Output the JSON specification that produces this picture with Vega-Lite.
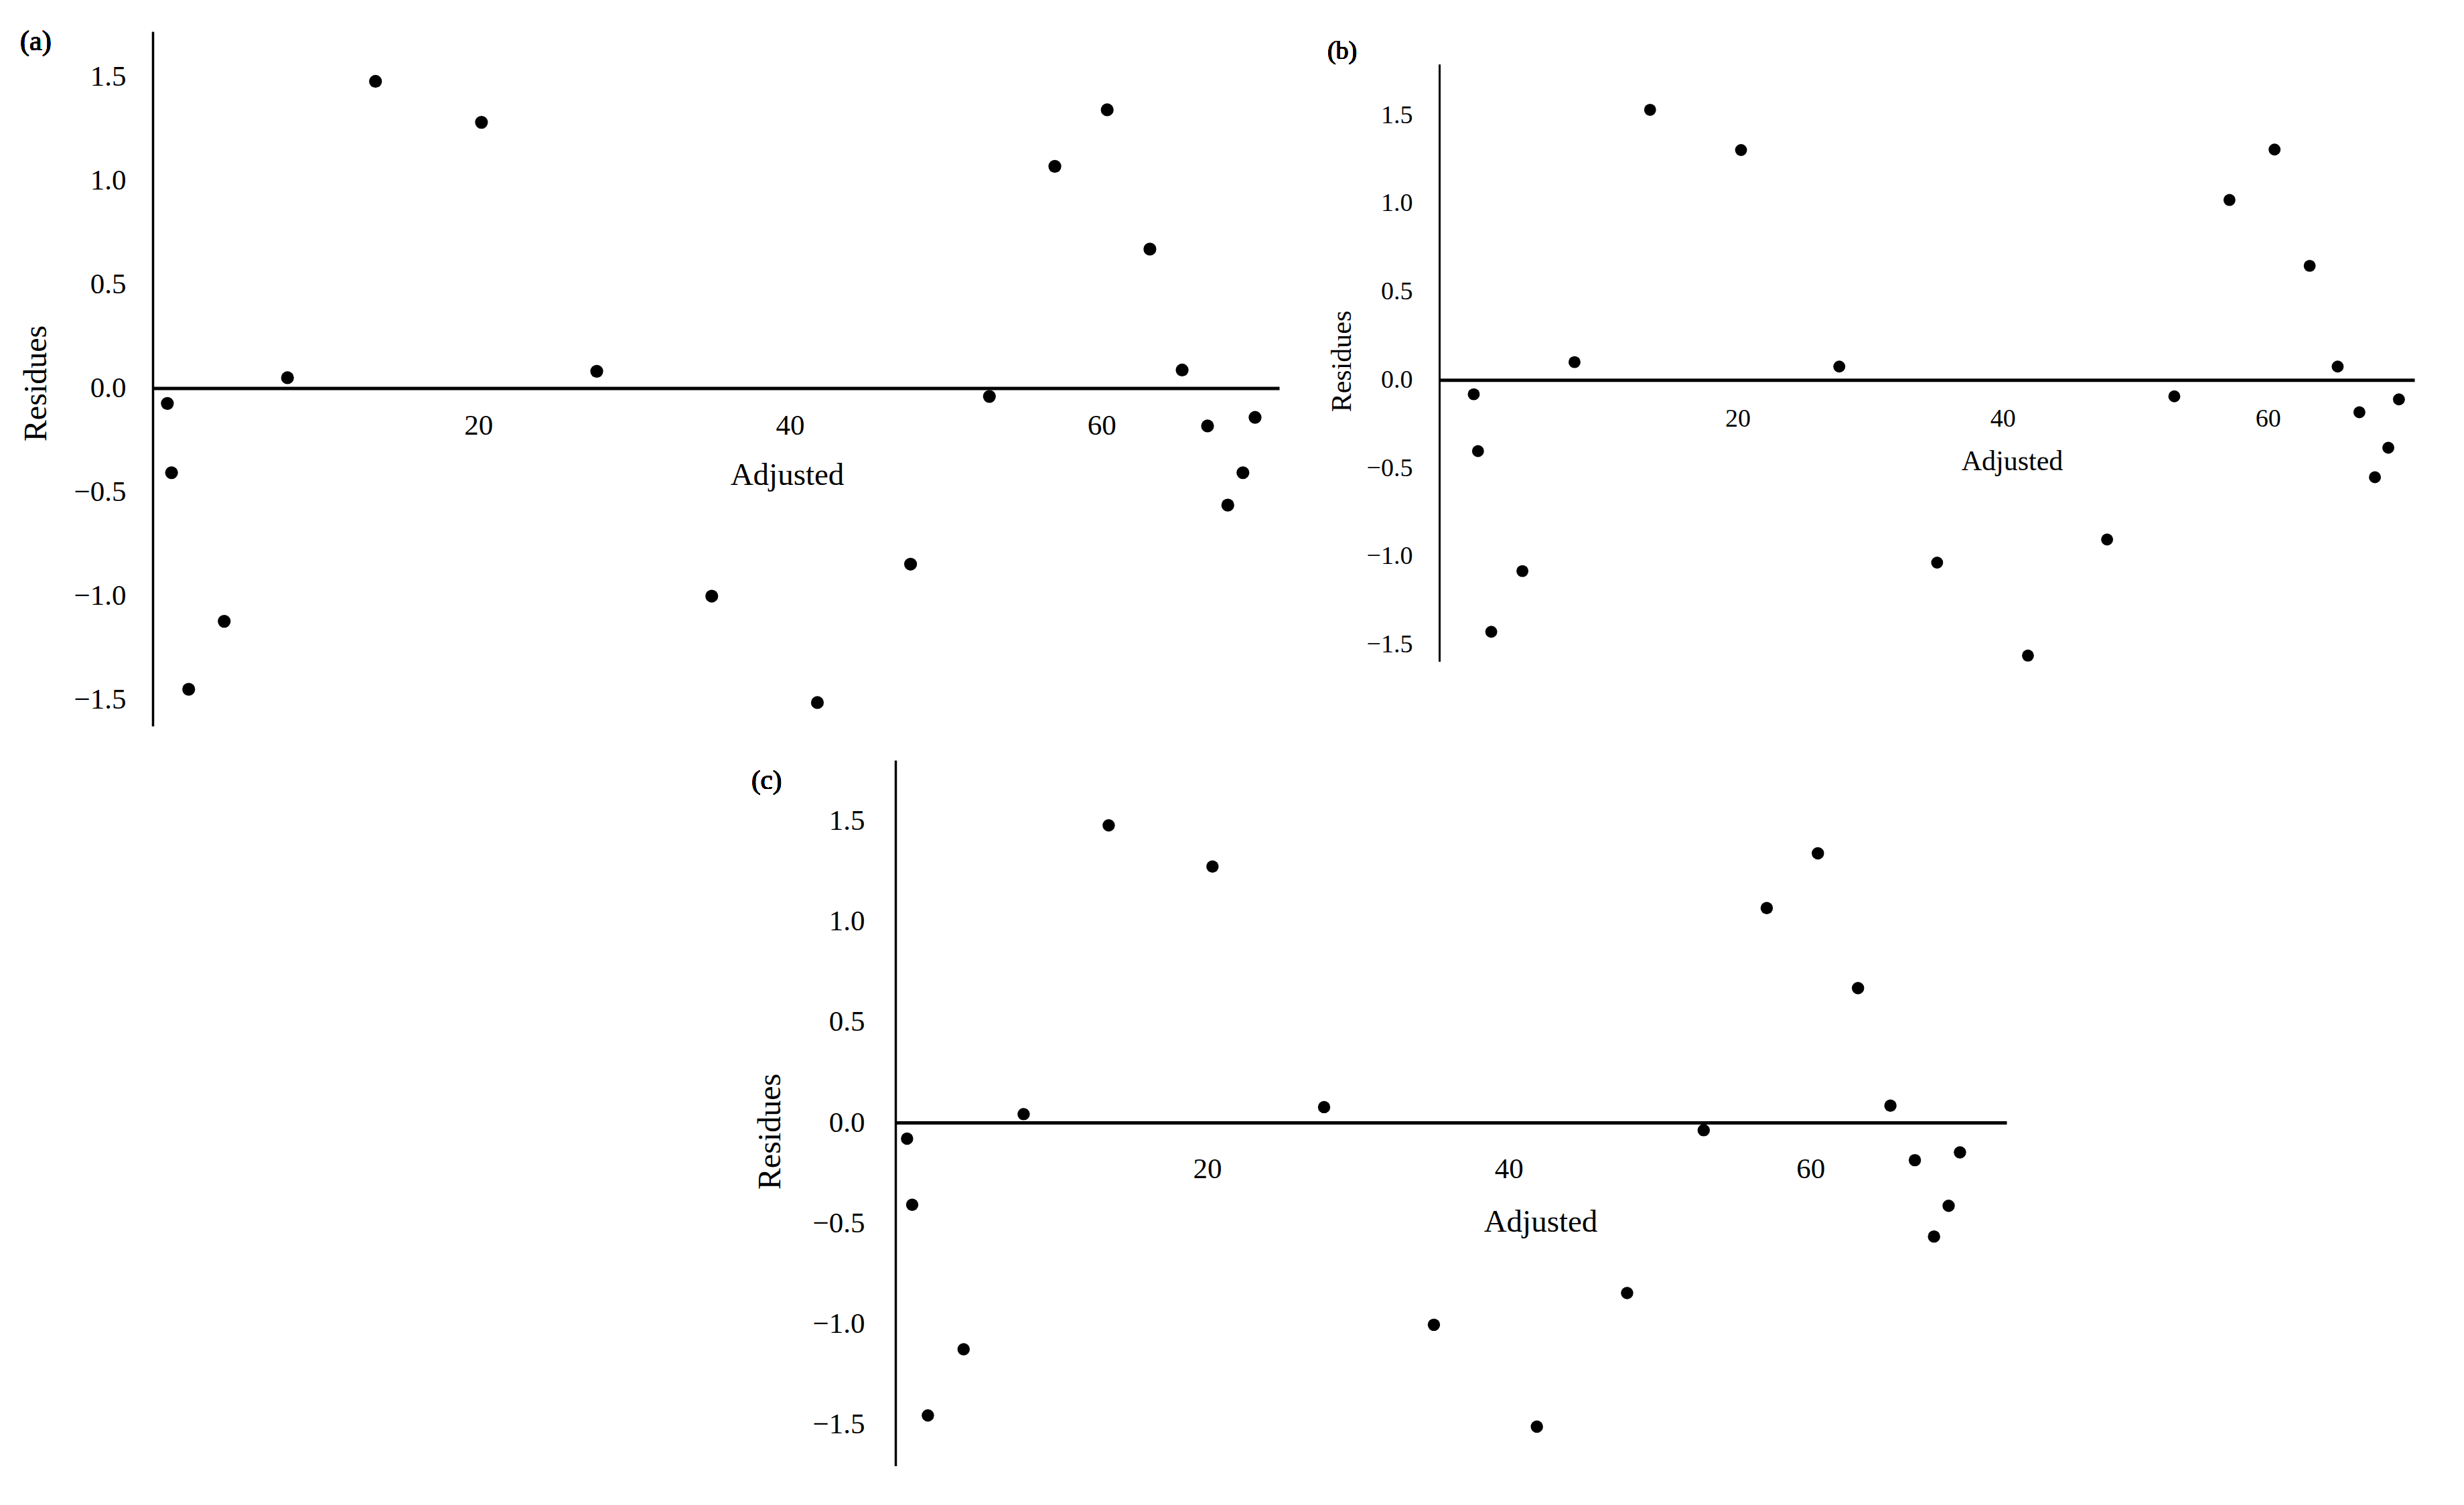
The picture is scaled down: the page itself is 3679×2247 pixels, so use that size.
{
  "$schema": "https://vega.github.io/schema/vega-lite/v6.json",
  "background": "white",
  "width": 3679,
  "height": 2247,
  "padding": 0,
  "autosize": {"type": "none"},
  "config": {
    "view": {"stroke": null},
    "font": "Liberation Serif",
    "axis": {"grid": false, "ticks": false, "tickSize": 0, "domainColor": "black", "labelColor": "black", "titleColor": "black", "labelFont": "Liberation Serif", "titleFont": "Liberation Serif", "titleFontWeight": "normal", "labelOverlap": false, "labelFlush": false}
  },
  "datasets": {
    "a": [
      {"adjusted": 0.04, "residues": -0.074}, {"adjusted": 0.31, "residues": -0.407}, {"adjusted": 1.41, "residues": -1.449}, {"adjusted": 3.69, "residues": -1.122},
      {"adjusted": 7.75, "residues": 0.05}, {"adjusted": 13.4, "residues": 1.476}, {"adjusted": 20.2, "residues": 1.279}, {"adjusted": 27.6, "residues": 0.081},
      {"adjusted": 34.98, "residues": -1.001}, {"adjusted": 41.76, "residues": -1.513}, {"adjusted": 47.74, "residues": -0.847}, {"adjusted": 52.8, "residues": -0.04},
      {"adjusted": 57.0, "residues": 1.067}, {"adjusted": 60.36, "residues": 1.339}, {"adjusted": 63.1, "residues": 0.669}, {"adjusted": 65.17, "residues": 0.087},
      {"adjusted": 66.8, "residues": -0.182}, {"adjusted": 68.1, "residues": -0.563}, {"adjusted": 69.07, "residues": -0.407}, {"adjusted": 69.85, "residues": -0.141}
    ],
    "b": [
      {"adjusted": 0.1, "residues": -0.081}, {"adjusted": 0.42, "residues": -0.403}, {"adjusted": 1.42, "residues": -1.427}, {"adjusted": 3.77, "residues": -1.083},
      {"adjusted": 7.7, "residues": 0.101}, {"adjusted": 13.4, "residues": 1.531}, {"adjusted": 20.26, "residues": 1.303}, {"adjusted": 27.67, "residues": 0.076},
      {"adjusted": 35.05, "residues": -1.035}, {"adjusted": 41.9, "residues": -1.562}, {"adjusted": 47.87, "residues": -0.904}, {"adjusted": 52.94, "residues": -0.093},
      {"adjusted": 57.1, "residues": 1.02}, {"adjusted": 60.5, "residues": 1.306}, {"adjusted": 63.15, "residues": 0.647}, {"adjusted": 65.26, "residues": 0.076},
      {"adjusted": 66.9, "residues": -0.183}, {"adjusted": 68.07, "residues": -0.551}, {"adjusted": 69.08, "residues": -0.384}, {"adjusted": 69.88, "residues": -0.11}
    ],
    "c": [
      {"adjusted": 0.1, "residues": -0.08}, {"adjusted": 0.44, "residues": -0.409}, {"adjusted": 1.48, "residues": -1.457}, {"adjusted": 3.85, "residues": -1.128},
      {"adjusted": 7.83, "residues": 0.042}, {"adjusted": 13.47, "residues": 1.479}, {"adjusted": 20.35, "residues": 1.274}, {"adjusted": 27.75, "residues": 0.077},
      {"adjusted": 35.03, "residues": -1.006}, {"adjusted": 41.86, "residues": -1.513}, {"adjusted": 47.84, "residues": -0.848}, {"adjusted": 52.92, "residues": -0.038},
      {"adjusted": 57.1, "residues": 1.067}, {"adjusted": 60.49, "residues": 1.34}, {"adjusted": 63.15, "residues": 0.669}, {"adjusted": 65.3, "residues": 0.084},
      {"adjusted": 66.92, "residues": -0.187}, {"adjusted": 68.19, "residues": -0.567}, {"adjusted": 69.16, "residues": -0.414}, {"adjusted": 69.91, "residues": -0.148}
    ]
  },
  "resolve": {"scale": {"x": "independent", "y": "independent"}, "axis": {"x": "independent", "y": "independent"}},
  "layer": [
    {
      "data": {"name": "a"},
      "encoding": {
        "x": {
          "field": "adjusted", "type": "quantitative",
          "scale": {"domain": [-0.9, 71.4], "range": [228, 1910], "nice": false, "zero": false},
          "axis": {"title": "Adjusted", "orient": "bottom", "offset": -1667.6, "values": [20, 40, 60], "domainWidth": 5, "labelFontSize": 43, "labelPadding": 56, "labelBaseline": "middle", "titleFontSize": 47, "titleX": 1175, "titleY": 130, "titleBaseline": "middle", "titleAlign": "center"}
        },
        "y": {
          "field": "residues", "type": "quantitative",
          "scale": {"domain": [-1.626, 1.716], "range": [1084, 47], "nice": false, "zero": false},
          "axis": {"title": "Residues", "orient": "left", "offset": -228, "values": [-1.5, -1, -0.5, 0, 0.5, 1, 1.5], "format": ".1f", "domainWidth": 3.5, "labelFontSize": 43, "labelPadding": 40, "labelBaseline": "middle", "titleFontSize": 48, "titleX": -174, "titleY": 572, "titleAngle": 270, "titleBaseline": "middle", "titleAlign": "center"}
        }
      },
      "layer": [
        {"mark": {"type": "circle", "size": 370, "color": "black", "opacity": 1}},
        {
          "mark": {"type": "text", "text": "(a)", "fontSize": 42, "fontWeight": "normal", "align": "left", "baseline": "middle", "color": "black", "font": "Liberation Serif"},
          "encoding": {"x": {"datum": -9.41, "type": "quantitative"}, "y": {"datum": 1.668, "type": "quantitative"}}
        }
      ]
    },
    {
      "data": {"name": "b"},
      "encoding": {
        "x": {
          "field": "adjusted", "type": "quantitative",
          "scale": {"domain": [-2.5, 71.05], "range": [2149, 3605], "nice": false, "zero": false},
          "axis": {"title": "Adjusted", "orient": "bottom", "offset": -1679.7, "values": [20, 40, 60], "domainWidth": 5, "labelFontSize": 38, "labelPadding": 58, "labelBaseline": "middle", "titleFontSize": 42, "titleX": 3004, "titleY": 121, "titleBaseline": "middle", "titleAlign": "center"}
        },
        "y": {
          "field": "residues", "type": "quantitative",
          "scale": {"domain": [-1.595, 1.79], "range": [987.5, 95.7], "nice": false, "zero": false},
          "axis": {"title": "Residues", "orient": "left", "offset": -2149, "values": [-1.5, -1, -0.5, 0, 0.5, 1, 1.5], "format": ".1f", "domainWidth": 3, "labelFontSize": 38, "labelPadding": 40, "labelBaseline": "middle", "titleFontSize": 42, "titleX": -146, "titleY": 539, "titleAngle": 270, "titleBaseline": "middle", "titleAlign": "center"}
        }
      },
      "layer": [
        {"mark": {"type": "circle", "size": 320, "color": "black", "opacity": 1}},
        {
          "mark": {"type": "text", "text": "(b)", "fontSize": 38, "fontWeight": "normal", "align": "left", "baseline": "middle", "color": "black", "font": "Liberation Serif"},
          "encoding": {"x": {"datum": -10.94, "type": "quantitative"}, "y": {"datum": 1.861, "type": "quantitative"}}
        }
      ]
    },
    {
      "data": {"name": "c"},
      "encoding": {
        "x": {
          "field": "adjusted", "type": "quantitative",
          "scale": {"domain": [-0.67, 73.0], "range": [1337, 2996], "nice": false, "zero": false},
          "axis": {"title": "Adjusted", "orient": "bottom", "offset": -571, "values": [20, 40, 60], "domainWidth": 5, "labelFontSize": 43, "labelPadding": 69, "labelBaseline": "middle", "titleFontSize": 47, "titleX": 2300, "titleY": 148, "titleBaseline": "middle", "titleAlign": "center"}
        },
        "y": {
          "field": "residues", "type": "quantitative",
          "scale": {"domain": [-1.708, 1.803], "range": [2188.5, 1135], "nice": false, "zero": false},
          "axis": {"title": "Residues", "orient": "left", "offset": -1337, "values": [-1.5, -1, -0.5, 0, 0.5, 1, 1.5], "format": ".1f", "domainWidth": 3.5, "labelFontSize": 43, "labelPadding": 46, "labelBaseline": "middle", "titleFontSize": 48, "titleX": -187, "titleY": 1689, "titleAngle": 270, "titleBaseline": "middle", "titleAlign": "center"}
        }
      },
      "layer": [
        {"mark": {"type": "circle", "size": 340, "color": "black", "opacity": 1}},
        {
          "mark": {"type": "text", "text": "(c)", "fontSize": 41, "fontWeight": "normal", "align": "left", "baseline": "middle", "color": "black", "font": "Liberation Serif"},
          "encoding": {"x": {"datum": -10.22, "type": "quantitative"}, "y": {"datum": 1.7, "type": "quantitative"}}
        }
      ]
    }
  ]
}
